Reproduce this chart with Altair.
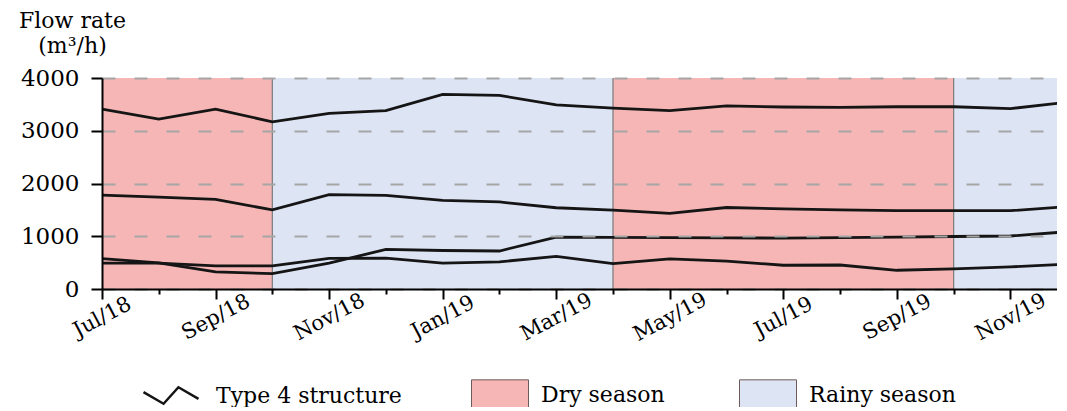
import altair as alt
import pandas as pd

# ---- data ----
month_labels = ["Jul/18", "Aug/18", "Sep/18", "Oct/18", "Nov/18", "Dec/18",
                "Jan/19", "Feb/19", "Mar/19", "Apr/19", "May/19", "Jun/19",
                "Jul/19", "Aug/19", "Sep/19", "Oct/19", "Nov/19", "Dec/19"]
months = list(range(len(month_labels)))

series_1 = [3410, 3220, 3410, 3170, 3330, 3380, 3690, 3670, 3490, 3430, 3380, 3470,
            3450, 3445, 3455, 3455, 3420, 3540]
series_2 = [1780, 1740, 1700, 1500, 1790, 1775, 1680, 1650, 1540, 1495, 1435, 1545,
            1520, 1500, 1485, 1485, 1485, 1560]
series_3 = [575, 495, 325, 290, 490, 750, 730, 720, 985, 980, 975, 970,
            965, 975, 985, 995, 1005, 1085]
series_4 = [490, 490, 440, 440, 580, 585, 490, 515, 620, 480, 570, 530,
            450, 455, 355, 380, 420, 470]

season_names = ["Dry season", "Rainy season", "Dry season", "Rainy season"]
season_start = [0, 3, 9, 15]
season_end = [3, 9, 15, 17]
season_colors = ["#F5B6B5", "#DDE5F4"]
boundaries = [3, 9, 15]

series_label = "Type 4 structure"

# ---- tables ----
rows = []
for name, vals in [("s1", series_1), ("s2", series_2), ("s3", series_3), ("s4", series_4)]:
    for m, v in zip(months, vals):
        rows.append({"month": m, "value": v, "series": name, "label": series_label})
lines_df = pd.DataFrame(rows)

seasons_df = pd.DataFrame({"season": season_names, "start": season_start, "end": season_end})
bound_df = pd.DataFrame({"b": boundaries})

FONT = "DejaVu Serif"
label_js = "[" + ",".join("'" + s + "'" for s in month_labels) + "]"
x_label_expr = "datum.value % 2 === 0 ? " + label_js + "[datum.value] : ''"

x_scale = alt.Scale(domain=[0, 16.82], nice=False, zero=False)
y_scale = alt.Scale(domain=[0, 4000], nice=False)

x_axis = alt.Axis(
    values=list(range(17)),
    labelExpr=x_label_expr,
    labelAngle=-28, labelAlign="center", labelBaseline="middle",
    labelPadding=18, labelFont=FONT, labelFontSize=21, labelColor="black",
    tickSize={"condition": {"test": "datum.value % 2 === 0", "value": 10}, "value": 5},
    tickColor="black", tickWidth=2, domainColor="black", domainWidth=2,
    grid=False, title=None, zindex=1, labelOverlap=False, labelBound=False,
)

y_axis = alt.Axis(
    values=[0, 500, 1000, 1500, 2000, 2500, 3000, 3500, 4000],
    format="d",
    labelExpr="datum.value % 1000 === 0 ? datum.label : ''",
    labelFont=FONT, labelFontSize=23, labelColor="black", labelPadding=12,
    tickSize={"condition": {"test": "datum.value % 1000 === 0", "value": 11}, "value": 5},
    tickColor="black", tickWidth=2, domainColor="black", domainWidth=2,
    grid=True, gridColor="#a6a6a6", gridWidth=2, gridDash=[13, 19],
    gridOpacity={"condition": {"test": "datum.value % 1000 === 0", "value": 1}, "value": 0},
    title=["Flow rate", "(m³/h)"], titleAngle=0, titleAlign="center",
    titleBaseline="alphabetic", titleX=-30, titleY=-51, titleLineHeight=25,
    titleFont=FONT, titleFontSize=22, titleFontWeight="normal", titleColor="black",
    zindex=1, labelOverlap=False,
)

rects = alt.Chart(seasons_df).mark_rect(clip=True).encode(
    x=alt.X("start:Q", scale=x_scale, axis=x_axis),
    x2="end:Q",
    y=alt.datum(0, scale=y_scale, axis=y_axis),
    y2=alt.datum(4000),
    fill=alt.Fill(
        "season:N",
        scale=alt.Scale(domain=["Dry season", "Rainy season"], range=season_colors),
        legend=alt.Legend(
            orient="none", legendX=369, legendY=287.5, direction="horizontal",
            title=None, symbolType="M-1,-0.53H1V0.53H-1Z", symbolSize=3249,
            symbolStrokeColor="#6e5a5a", symbolStrokeWidth=1,
            labelFont=FONT, labelFontSize=22, labelColor="black", labelLimit=400,
            labelOffset=12, columnPadding=72,
        ),
    ),
)

rules = alt.Chart(bound_df).mark_rule(color="#7a7a7a", strokeWidth=1.2).encode(
    x=alt.X("b:Q", scale=x_scale),
)

lines = alt.Chart(lines_df).mark_line(strokeWidth=2.8, clip=True).encode(
    x=alt.X("month:Q", scale=x_scale),
    y=alt.Y("value:Q", scale=y_scale),
    detail="series:N",
    stroke=alt.Stroke(
        "label:N",
        scale=alt.Scale(domain=[series_label], range=["#151515"]),
        legend=alt.Legend(
            orient="none", legendX=40, legendY=288.5, direction="horizontal",
            title=None, symbolType="M-1,-0.12L-0.27,0.3L0.27,-0.3L1,0.12",
            symbolSize=3025, symbolStrokeWidth=2.5, symbolFillColor="transparent",
            labelFont=FONT, labelFontSize=22, labelColor="black", labelLimit=400,
            labelOffset=16,
        ),
    ),
)

chart = alt.layer(rects, rules, lines).resolve_legend(fill="independent", stroke="independent").properties(
    width=955, height=211,
    autosize=alt.AutoSizeParams(type="none"),
    padding={"left": 94, "top": 70, "right": 0, "bottom": 118},
).configure_view(stroke=None)

chart.save("out.html", embed_options={"renderer": "svg", "actions": False})
